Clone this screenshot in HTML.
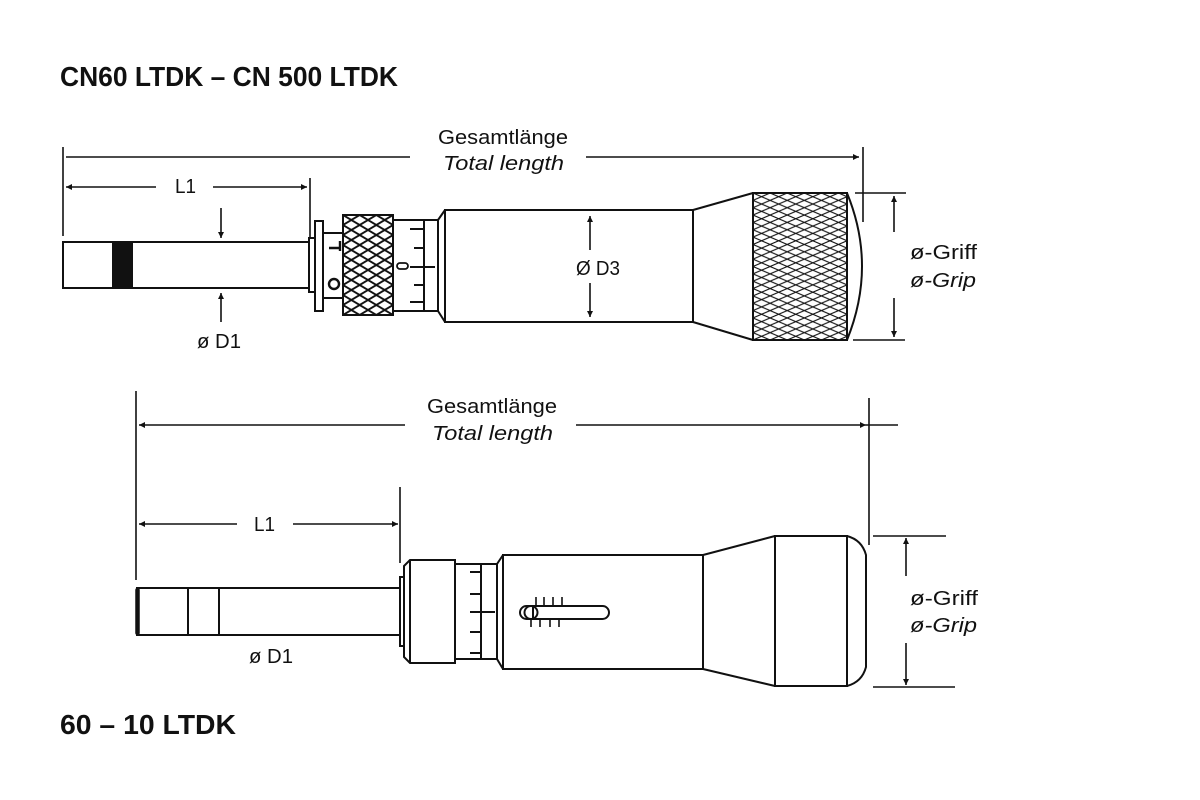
<!DOCTYPE html>
<html><head><meta charset="utf-8"><style>
html,body{margin:0;padding:0;background:#fff;}
svg{display:block;}
text{font-family:"Liberation Sans",sans-serif;fill:#111;}
</style></head><body>
<svg width="1200" height="800" viewBox="0 0 1200 800" xmlns="http://www.w3.org/2000/svg">
<defs>
<pattern id="k1" patternUnits="userSpaceOnUse" x="343" y="215" width="16.67" height="10">
<path d="M0,0 L16.67,10 M0,10 L16.67,0" stroke="#111" stroke-width="1.9" fill="none"/>
</pattern>
<pattern id="k2" patternUnits="userSpaceOnUse" x="753" y="193" width="17.1" height="7.35">
<path d="M0,0 L17.1,7.35 M0,7.35 L17.1,0" stroke="#111" stroke-width="1.1" fill="none"/>
</pattern>
<marker id="ar" viewBox="0 0 10 10" refX="10" refY="5" markerWidth="9" markerHeight="6" markerUnits="userSpaceOnUse" orient="auto">
<path d="M0,0 L10,5 L0,10 Z" fill="#111"/>
</marker>
</defs>

<!-- Titles -->
<text x="60" y="86" font-size="28" font-weight="bold" textLength="338" lengthAdjust="spacingAndGlyphs">CN60 LTDK – CN 500 LTDK</text>
<text x="60" y="734" font-size="28" font-weight="bold" textLength="176" lengthAdjust="spacingAndGlyphs">60 – 10 LTDK</text>

<!-- ================= TOP TOOL ================= -->
<g stroke="#111" stroke-width="1.6" fill="none">
<line x1="63" y1="147" x2="63" y2="236"/>
<line x1="66" y1="157" x2="410" y2="157"/>
<line x1="586" y1="157" x2="859" y2="157" marker-end="url(#ar)"/>
<line x1="863" y1="147" x2="863" y2="222"/>
<line x1="156" y1="187" x2="66" y2="187" marker-end="url(#ar)"/>
<line x1="213" y1="187" x2="307" y2="187" marker-end="url(#ar)"/>
<line x1="310" y1="178" x2="310" y2="243"/>
<line x1="221" y1="208" x2="221" y2="238" marker-end="url(#ar)"/>
<line x1="221" y1="322" x2="221" y2="293" marker-end="url(#ar)"/>
<line x1="590" y1="250" x2="590" y2="216" marker-end="url(#ar)"/>
<line x1="590" y1="283" x2="590" y2="317" marker-end="url(#ar)"/>
<line x1="855" y1="193" x2="906" y2="193"/>
<line x1="853" y1="340" x2="905" y2="340"/>
<line x1="894" y1="232" x2="894" y2="196" marker-end="url(#ar)"/>
<line x1="894" y1="298" x2="894" y2="337" marker-end="url(#ar)"/>
</g>

<g stroke="#111" stroke-width="2" fill="none">
<rect x="63" y="242" width="246" height="46" fill="#fff"/>
<rect x="113" y="242" width="19" height="46" fill="#111"/>
<rect x="309" y="238" width="6" height="54" fill="#fff"/>
<rect x="315" y="221" width="8" height="90" fill="#fff"/>
<rect x="323" y="233" width="20" height="65" fill="#fff"/>
<rect x="343" y="215" width="50" height="100" fill="url(#k1)"/>
<rect x="393" y="220" width="45" height="91" fill="#fff"/>
<line x1="424" y1="220" x2="424" y2="311"/>
<line x1="410" y1="229" x2="424" y2="229"/>
<line x1="414" y1="248" x2="424" y2="248"/>
<line x1="410" y1="267" x2="435" y2="267"/>
<line x1="414" y1="285" x2="424" y2="285"/>
<line x1="410" y1="302" x2="424" y2="302"/>
<rect x="397" y="263" width="11" height="6" rx="3" stroke-width="1.8"/>
<line x1="438" y1="220" x2="445" y2="210"/>
<line x1="438" y1="311" x2="445" y2="322"/>
<rect x="445" y="210" width="248" height="112"/>
<path d="M693,210 L753,193 M693,322 L753,340"/>
<rect x="753" y="193" width="94" height="147" fill="url(#k2)"/>
<path d="M847,193 Q877,266 847,340"/>
<!-- L and O on collar -->
<path d="M329,248 L340,248 M340,241 L340,251" stroke-width="2.4"/>
<ellipse cx="334" cy="284" rx="5" ry="5" stroke-width="2.4"/>
</g>

<g font-size="20">
<text x="438" y="144" textLength="130" lengthAdjust="spacingAndGlyphs">Gesamtlänge</text>
<text x="443" y="170" font-style="italic" textLength="121" lengthAdjust="spacingAndGlyphs">Total length</text>
<text x="175" y="193" textLength="21" lengthAdjust="spacingAndGlyphs">L1</text>
<text x="197" y="348" textLength="44" lengthAdjust="spacingAndGlyphs">ø D1</text>
<text x="576" y="275" textLength="44" lengthAdjust="spacingAndGlyphs">Ø D3</text>
<text x="910" y="259" textLength="67" lengthAdjust="spacingAndGlyphs">ø-Griff</text>
<text x="910" y="287" font-style="italic" textLength="66" lengthAdjust="spacingAndGlyphs">ø-Grip</text>
</g>

<!-- ================= BOTTOM TOOL ================= -->
<g stroke="#111" stroke-width="1.6" fill="none">
<line x1="136" y1="391" x2="136" y2="580"/>
<line x1="405" y1="425" x2="139" y2="425" marker-end="url(#ar)"/>
<line x1="576" y1="425" x2="866" y2="425" marker-end="url(#ar)"/>
<line x1="866" y1="425" x2="898" y2="425"/>
<line x1="869" y1="398" x2="869" y2="545"/>
<line x1="237" y1="524" x2="139" y2="524" marker-end="url(#ar)"/>
<line x1="293" y1="524" x2="398" y2="524" marker-end="url(#ar)"/>
<line x1="400" y1="487" x2="400" y2="563"/>
<line x1="266" y1="611" x2="266" y2="590" marker-end="url(#ar)"/>
<line x1="266" y1="611" x2="266" y2="633" marker-end="url(#ar)"/>
<line x1="873" y1="536" x2="946" y2="536"/>
<line x1="873" y1="687" x2="955" y2="687"/>
<line x1="906" y1="576" x2="906" y2="538" marker-end="url(#ar)"/>
<line x1="906" y1="643" x2="906" y2="685" marker-end="url(#ar)"/>
</g>

<g stroke="#111" stroke-width="2" fill="none">
<rect x="137" y="588" width="263" height="47" fill="#fff"/>
<line x1="137.5" y1="590" x2="137.5" y2="633" stroke-width="4.5" stroke-linecap="round"/>
<line x1="188" y1="588" x2="188" y2="635"/>
<line x1="219" y1="588" x2="219" y2="635"/>
<rect x="400" y="577" width="5" height="69" fill="#fff"/>
<path d="M404,566 L410,560 L455,560 L455,663 L410,663 L404,657 Z" fill="#fff"/>
<line x1="410" y1="560" x2="410" y2="663"/>
<rect x="455" y="564" width="42" height="95" fill="#fff"/>
<line x1="481" y1="564" x2="481" y2="659"/>
<line x1="470" y1="572" x2="481" y2="572"/>
<line x1="470" y1="594" x2="481" y2="594"/>
<line x1="470" y1="612" x2="495" y2="612"/>
<line x1="470" y1="632" x2="481" y2="632"/>
<line x1="470" y1="653" x2="481" y2="653"/>
<line x1="497" y1="564" x2="503" y2="555"/>
<line x1="497" y1="659" x2="503" y2="669"/>
<rect x="503" y="555" width="200" height="114"/>
<rect x="520" y="606" width="89" height="13" rx="6.5"/>
<ellipse cx="531" cy="612.5" rx="6.5" ry="6.5"/>
<line x1="533" y1="606" x2="533" y2="619"/>
<path d="M536,597 L536,605 M544,597 L544,605 M553,597 L553,605 M562,597 L562,605" stroke-width="1.6"/>
<path d="M531,619 L531,627 M540,619 L540,627 M550,619 L550,627 M559,619 L559,627" stroke-width="1.6"/>
<path d="M703,555 L775,536 M703,669 L775,686"/>
<rect x="775" y="536" width="72" height="150"/>
<path d="M847,536 Q862,540 866,555 L866,667 Q862,682 847,686"/>
</g>

<g font-size="20">
<text x="427" y="413" textLength="130" lengthAdjust="spacingAndGlyphs">Gesamtlänge</text>
<text x="432" y="440" font-style="italic" textLength="121" lengthAdjust="spacingAndGlyphs">Total length</text>
<text x="254" y="531" textLength="21" lengthAdjust="spacingAndGlyphs">L1</text>
<text x="249" y="663" textLength="44" lengthAdjust="spacingAndGlyphs">ø D1</text>
<text x="910" y="605" textLength="68" lengthAdjust="spacingAndGlyphs">ø-Griff</text>
<text x="910" y="632" font-style="italic" textLength="67" lengthAdjust="spacingAndGlyphs">ø-Grip</text>
</g>
</svg>
</body></html>
